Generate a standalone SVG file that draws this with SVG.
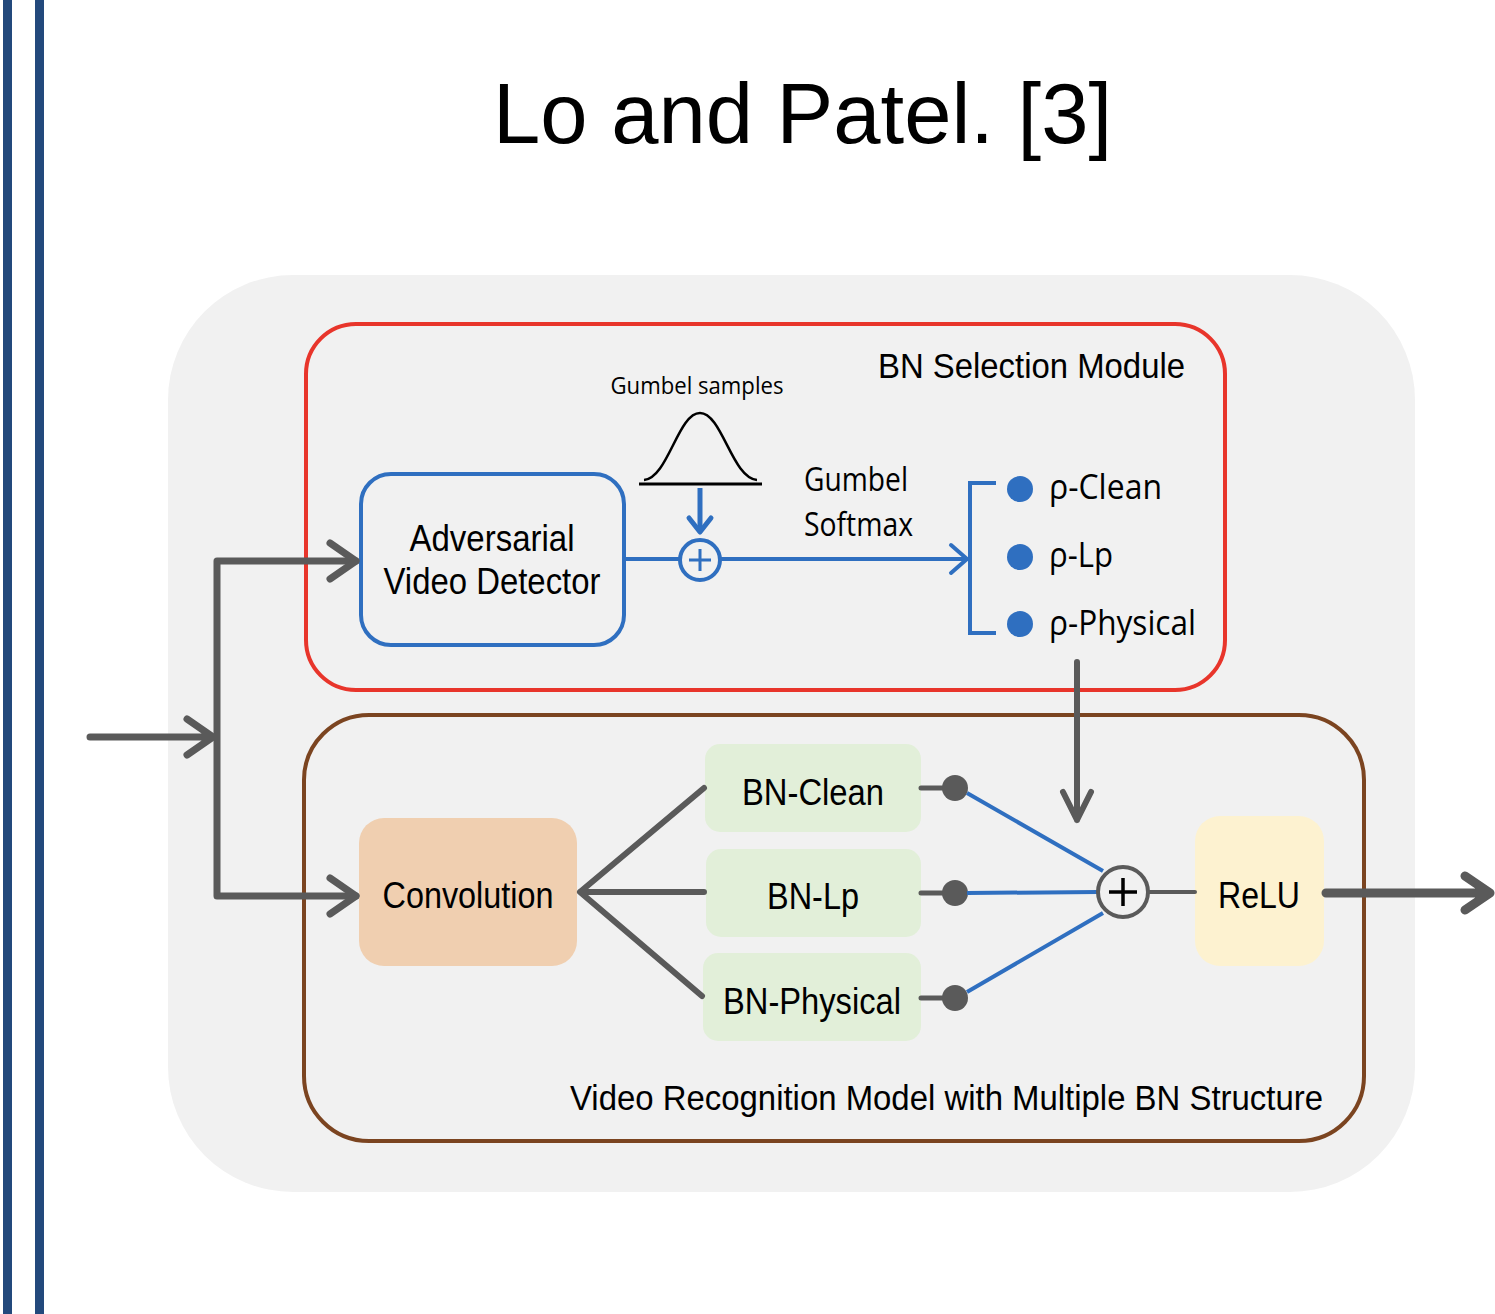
<svg xmlns="http://www.w3.org/2000/svg" width="1495" height="1314" viewBox="0 0 1495 1314">
<style>
.t{font-family:"Liberation Sans",Arial,sans-serif;fill:#000}
.c{font-family:"Open Sans","Noto Sans",sans-serif;fill:#000}
.g{stroke:#5a5a5a;fill:none;stroke-linecap:round;stroke-linejoin:round}
.b{stroke:#2f6fc0;fill:none}
</style>
<rect width="1495" height="1314" fill="#fff"/>
<rect x="3" y="0" width="9" height="1314" fill="#23497c"/>
<rect x="35" y="0" width="9" height="1314" fill="#23497c"/>
<text class="t" x="493" y="143" font-size="85">Lo and Patel. [3]</text>
<g id="background"><rect x="168" y="275" width="1247" height="917" rx="125" fill="#f1f1f1"/></g>
<g id="bn-selection-module">
<rect x="306" y="324" width="919" height="366" rx="50" fill="none" stroke="#e8352b" stroke-width="4"/>
<text class="t" x="878" y="378" font-size="35" textLength="307" lengthAdjust="spacingAndGlyphs">BN Selection Module</text>
</g>
<g id="recognition-model">
<rect x="304" y="715" width="1060" height="426" rx="65" fill="none" stroke="#7b4420" stroke-width="4"/>
<text class="t" x="570" y="1110" font-size="35" textLength="753" lengthAdjust="spacingAndGlyphs">Video Recognition Model with Multiple BN Structure</text>
</g>
<g id="detector">
<rect x="361" y="474" width="263" height="171" rx="30" fill="none" stroke="#2f6fc0" stroke-width="4"/>
<text class="t" x="492" y="551" font-size="37" text-anchor="middle" textLength="165" lengthAdjust="spacingAndGlyphs">Adversarial</text>
<text class="t" x="492" y="594" font-size="37" text-anchor="middle" textLength="217" lengthAdjust="spacingAndGlyphs">Video Detector</text>
</g>
<g id="gumbel-samples">
<text class="c" x="697" y="394" font-size="24" text-anchor="middle" textLength="173" lengthAdjust="spacingAndGlyphs">Gumbel samples</text>
<path d="M644,480 C668,478 678,413 700,413 C722,413 732,478 757,480" fill="none" stroke="#000" stroke-width="2.5"/>
<line x1="639" y1="484" x2="762" y2="484" stroke="#000" stroke-width="3"/>
</g>
<g id="gumbel-softmax">
<text class="c" x="804" y="491" font-size="32" textLength="104" lengthAdjust="spacingAndGlyphs">Gumbel</text>
<text class="c" x="804" y="536" font-size="32" textLength="109" lengthAdjust="spacingAndGlyphs">Softmax</text>
</g>
<g id="selection">
<path class="b" stroke-width="4" d="M996,483 H970 V633 H996"/>
<circle cx="1020" cy="489" r="13" fill="#2f6fc0"/>
<circle cx="1020" cy="557" r="13" fill="#2f6fc0"/>
<circle cx="1020" cy="624" r="13" fill="#2f6fc0"/>
<text class="c" x="1049" y="499" font-size="35" textLength="113" lengthAdjust="spacingAndGlyphs">ρ-Clean</text>
<text class="c" x="1049" y="567" font-size="35" textLength="64" lengthAdjust="spacingAndGlyphs">ρ-Lp</text>
<text class="c" x="1049" y="635" font-size="35" textLength="147" lengthAdjust="spacingAndGlyphs">ρ-Physical</text>
</g>
<g id="add-top">
<circle cx="700" cy="560" r="20" fill="#f1f1f1" stroke="#2f6fc0" stroke-width="4"/>
<path d="M700,549 V571 M689,560 H711" stroke="#2f6fc0" stroke-width="3"/>
</g>
<g id="convolution">
<rect x="359" y="818" width="218" height="148" rx="25" fill="#f0cfb0"/>
<text class="t" x="468" y="908" font-size="36" text-anchor="middle" textLength="171" lengthAdjust="spacingAndGlyphs">Convolution</text>
</g>
<g id="bn-clean">
<rect x="705" y="744" width="216" height="88" rx="15" fill="#e2efd9"/>
<text class="t" x="813" y="805" font-size="36" text-anchor="middle" textLength="142" lengthAdjust="spacingAndGlyphs">BN-Clean</text>
</g>
<g id="bn-lp">
<rect x="706" y="849" width="215" height="88" rx="15" fill="#e2efd9"/>
<text class="t" x="813" y="909" font-size="36" text-anchor="middle" textLength="92" lengthAdjust="spacingAndGlyphs">BN-Lp</text>
</g>
<g id="bn-physical">
<rect x="703" y="953" width="218" height="88" rx="15" fill="#e2efd9"/>
<text class="t" x="812" y="1014" font-size="36" text-anchor="middle" textLength="178" lengthAdjust="spacingAndGlyphs">BN-Physical</text>
</g>
<g id="relu">
<rect x="1195" y="816" width="129" height="150" rx="25" fill="#fdf2d0"/>
<text class="t" x="1259" y="908" font-size="36" text-anchor="middle" textLength="82" lengthAdjust="spacingAndGlyphs">ReLU</text>
</g>
<g id="connectors">
<path class="g" stroke-width="7" d="M90,737 H213 M187,719 L213,737 L187,755"/>
<path class="g" stroke-width="7" d="M356,561 H217 V896 H356"/>
<path class="g" stroke-width="7" d="M330,543 L356,561 L330,579 M330,878 L356,896 L330,914"/>
<path class="b" stroke-width="4" d="M624,559 H680 M720,559 H967"/>
<path class="b" stroke-width="4" stroke-linecap="round" stroke-linejoin="round" d="M951,545 L967,559 L951,573"/>
<path class="b" stroke-width="5" d="M700,488 V530"/>
<path class="b" stroke-width="5" stroke-linecap="round" stroke-linejoin="round" d="M689,518 L700,532 L711,518"/>
<path class="g" stroke-width="6" d="M1077,662 V820 M1063,792 L1077,820 L1091,792"/>
<path class="g" stroke-width="6" d="M704,788 L580,892 L704,892 M580,892 L702,996"/>
<path class="g" stroke-width="5" d="M921,788 H955 M921,893 H955 M921,998 H955"/>
<circle cx="955" cy="788" r="13" fill="#5a5a5a"/>
<circle cx="955" cy="893" r="13" fill="#5a5a5a"/>
<circle cx="955" cy="998" r="13" fill="#5a5a5a"/>
<path class="b" stroke-width="4" d="M967,793 L1103,871 M967,893 L1098,892 M967,992 L1103,913"/>
<circle cx="1123" cy="892" r="25" fill="#f1f1f1" stroke="#5a5a5a" stroke-width="4"/>
<path d="M1123,878 V906 M1109,892 H1137" stroke="#000" stroke-width="3.5"/>
<path class="g" stroke-width="4" d="M1148,892 H1195"/>
<path class="g" stroke-width="9" d="M1326,893 H1490 M1465,876 L1490,893 L1465,910"/>
</g>
</svg>
